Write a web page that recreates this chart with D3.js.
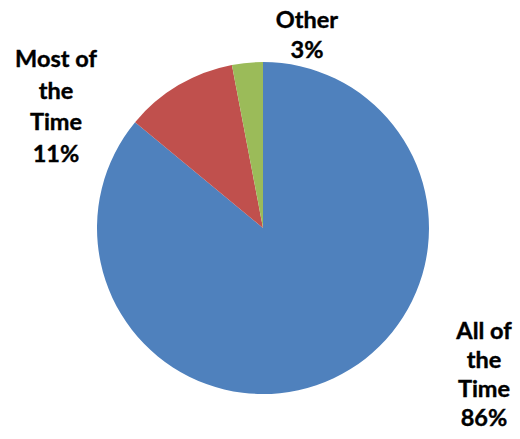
<!DOCTYPE html>
<html>
<head>
<meta charset="utf-8">
<script src="https://cdn.jsdelivr.net/npm/d3@7"></script>
<style>
  html, body { margin: 0; padding: 0; background: #ffffff; }
  svg { display: block; }
</style>
</head>
<body>
<svg id="chart" width="520" height="439"></svg>
<script>
// Share of responses per answer, drawn clockwise from 12 o'clock
const categories = ["All of the Time", "Most of the Time", "Other"];
const values = [86, 11, 3];
const labelLines = [["All of", "the", "Time", "86%"], ["Most of", "the", "Time", "11%"], ["Other", "3%"]];
const colors = ["#4F81BD", "#C0504D", "#9BBB59"];

const width = 520, height = 439;
const cx = 263, cy = 228, radius = 166;

const svg = d3.select("#chart");
const g = svg.append("g").attr("transform", `translate(${cx},${cy})`);

const pie = d3.pie().sort(null).value(d => d.value);
const arc = d3.arc().innerRadius(0).outerRadius(radius);

const data = categories.map((c, i) => ({ name: c, value: values[i], color: colors[i], lines: labelLines[i] }));
const arcs = pie(data);

g.selectAll("path.slice")
  .data(arcs)
  .join("path")
  .attr("class", "slice")
  .attr("d", arc)
  .attr("fill", d => d.data.color);

// Label anchor points (center x, first baseline y) in page coordinates
const labelPos = [
  { x: 484, y: 339 },
  { x: 56, y: 67 },
  { x: 307, y: 28 }
];
const lineStep = [29, 31.5, 30];

const labels = svg.append("g")
  .attr("font-family", "Lato, 'Open Sans', sans-serif")
  .attr("font-weight", 700)
  .attr("font-size", 23.5)
  .attr("fill", "#000")
  .attr("stroke", "#000")
  .attr("stroke-width", 0.4)
  .attr("text-anchor", "middle");

arcs.forEach((a, i) => {
  const t = labels.append("text")
    .attr("x", labelPos[i].x)
    .attr("y", labelPos[i].y);
  a.data.lines.forEach((ln, j) => {
    t.append("tspan")
      .attr("x", labelPos[i].x)
      .attr("y", labelPos[i].y + j * lineStep[i])
      .text(ln);
  });
});
</script>
</body>
</html>
